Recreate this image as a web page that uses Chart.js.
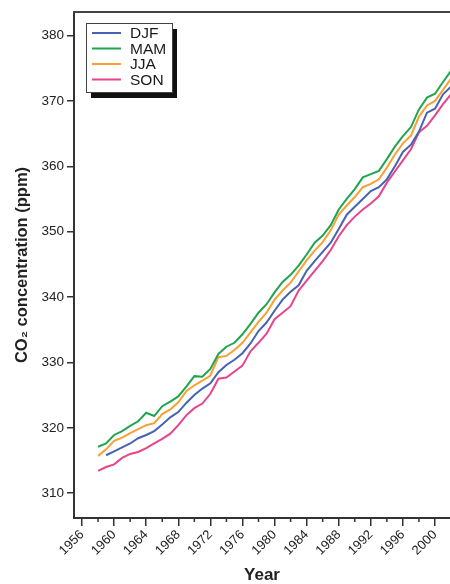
<!DOCTYPE html>
<html><head><meta charset="utf-8">
<script src="https://cdn.jsdelivr.net/npm/chart.js@4"></script>
<style>html,body{margin:0;padding:0;background:#fff}#wrap{width:450px;height:584px;position:relative}</style>
</head><body><div id="wrap"><canvas id="c"></canvas></div>
<script>
const YEARS = [1958,1959,1960,1961,1962,1963,1964,1965,1966,1967,1968,1969,1970,1971,1972,1973,1974,1975,1976,1977,1978,1979,1980,1981,1982,1983,1984,1985,1986,1987,1988,1989,1990,1991,1992,1993,1994,1995,1996,1997,1998,1999,2000,2001,2002];
const DJF = [null,315.8,316.4,317.0,317.6,318.4,318.9,319.5,320.5,321.6,322.4,323.8,325.0,326.0,326.8,328.5,329.6,330.4,331.4,332.9,334.8,336.1,337.9,339.6,340.8,341.8,344.0,345.5,346.9,348.3,350.4,352.6,353.8,355.0,356.2,356.8,358.0,360.0,362.2,363.3,365.3,368.2,368.8,371.0,372.2];
const MAM = [317.1,317.6,318.9,319.5,320.3,321.0,322.3,321.8,323.3,324.0,324.8,326.3,327.9,327.8,329.0,331.3,332.4,333.0,334.3,335.9,337.6,338.9,340.7,342.3,343.4,344.8,346.5,348.3,349.4,351.0,353.4,355.0,356.5,358.3,358.8,359.3,361.1,363.0,364.6,366.0,368.7,370.5,371.1,372.9,374.6];
const JJA = [315.7,316.7,318.0,318.5,319.2,319.8,320.4,320.7,322.1,322.8,323.9,325.6,326.5,327.2,328.0,330.8,331.0,331.9,333.0,334.6,336.2,337.6,339.6,341.0,342.2,343.9,345.6,347.1,348.4,350.2,352.6,354.0,355.3,356.8,357.3,358.0,359.8,361.8,363.5,364.7,367.6,369.3,370.0,371.7,373.4];
const SON = [313.4,314.0,314.4,315.4,316.0,316.3,316.9,317.6,318.3,319.1,320.4,321.9,323.0,323.7,325.2,327.5,327.7,328.6,329.5,331.7,333.0,334.4,336.6,337.6,338.6,341.0,342.5,344.0,345.5,347.2,349.3,351.0,352.3,353.4,354.3,355.4,357.5,359.2,360.9,362.6,365.2,366.2,367.8,369.5,371.0];
const SERIES_NAMES = ['DJF','MAM','JJA','SON'];
const X_TICKS = [1956,1960,1964,1968,1972,1976,1980,1984,1988,1992,1996,2000];
const X_MINOR_TICKS = [1958,1962,1966,1970,1974,1978,1982,1986,1990,1994,1998];
const Y_TICKS = [310,320,330,340,350,360,370,380];
const X_TITLE = 'Year';
const Y_TITLE = 'CO\u2082 concentration (ppm)';

const SERIES_VALUES = [DJF, MAM, JJA, SON];
const COLORS = ['#4463b0', '#1fa54f', '#f8a033', '#e6448c'];
const FONT = "'Liberation Sans',Arial,sans-serif";

const decor = {
  id: 'decor',
  afterDraw(chart) {
    const {ctx, chartArea: a, scales: {x}} = chart;
    ctx.save();
    ctx.strokeStyle = '#444'; ctx.lineWidth = 2;
    ctx.beginPath(); ctx.moveTo(a.left - 1, a.top); ctx.lineTo(a.right, a.top); ctx.stroke();
    ctx.strokeStyle = '#333'; ctx.lineWidth = 1.5;
    X_MINOR_TICKS.forEach(v => {
      const px = x.getPixelForValue(v);
      if (px < a.left || px > a.right) return;
      ctx.beginPath(); ctx.moveTo(px, a.bottom); ctx.lineTo(px, a.bottom + 4); ctx.stroke();
    });
    const bx = a.left + 12, by = a.top + 11, bw = 86, bh = 69;
    ctx.fillStyle = '#111'; ctx.fillRect(bx + 5, by + 6, bw, bh);
    ctx.fillStyle = '#fff'; ctx.fillRect(bx, by, bw, bh);
    ctx.strokeStyle = '#444'; ctx.lineWidth = 1; ctx.strokeRect(bx + 0.5, by + 0.5, bw, bh);
    chart.data.datasets.forEach((ds, i) => {
      const yy = by + 10 + i * 15.5;
      ctx.strokeStyle = ds.borderColor; ctx.lineWidth = 2;
      ctx.beginPath(); ctx.moveTo(bx + 6, yy); ctx.lineTo(bx + 35, yy); ctx.stroke();
      ctx.fillStyle = '#1a1a1a'; ctx.font = '15.5px ' + FONT;
      ctx.textBaseline = 'middle'; ctx.textAlign = 'left';
      ctx.fillText(ds.label, bx + 44, yy + 1);
    });
    ctx.restore();
  }
};

new Chart(document.getElementById('c'), {
  type: 'line',
  data: {
    datasets: SERIES_NAMES.map((name, i) => ({
      label: name,
      data: YEARS.map((yr, j) => ({x: yr, y: SERIES_VALUES[i][j]})),
      borderColor: COLORS[i],
      backgroundColor: COLORS[i],
      borderWidth: 2,
      pointRadius: 0,
      tension: 0,
      fill: false
    }))
  },
  options: {
    responsive: true,
    maintainAspectRatio: false,
    animation: false,
    layout: {padding: {top: 12, left: 0, right: 0, bottom: 0}},
    plugins: {legend: {display: false}, tooltip: {enabled: false}},
    scales: {
      x: {
        type: 'linear', min: 1955, max: 2001.87,
        afterBuildTicks: s => { s.ticks = X_TICKS.map(v => ({value: v})); },
        afterFit: s => { s.height = 66; },
        grid: {drawOnChartArea: false, drawTicks: true, tickLength: 8, color: '#333', lineWidth: 1.5},
        border: {display: true, color: '#333', width: 2},
        ticks: {minRotation: 45, maxRotation: 45, autoSkip: false, padding: 1, color: '#222',
                font: {family: FONT, size: 13}, callback: v => String(v)},
        title: {display: true, text: X_TITLE, color: '#222',
                font: {family: FONT, size: 17, weight: 'bold', lineHeight: 1}, padding: {top: 0, bottom: 0}}
      },
      y: {
        min: 306.2, max: 383.6,
        afterBuildTicks: s => { s.ticks = Y_TICKS.map(v => ({value: v})); },
        afterFit: s => { s.width = 74; },
        grid: {drawOnChartArea: false, drawTicks: true, tickLength: 7, color: '#333', lineWidth: 1.5},
        border: {display: true, color: '#333', width: 2},
        ticks: {padding: 3, color: '#222', font: {family: FONT, size: 13.5}, callback: v => String(v)},
        title: {display: true, text: Y_TITLE, color: '#222',
                font: {family: FONT, size: 16.5, weight: 'bold', lineHeight: 1}, padding: {top: 14, bottom: 0}}
      }
    }
  },
  plugins: [decor]
});
</script>
</body></html>
